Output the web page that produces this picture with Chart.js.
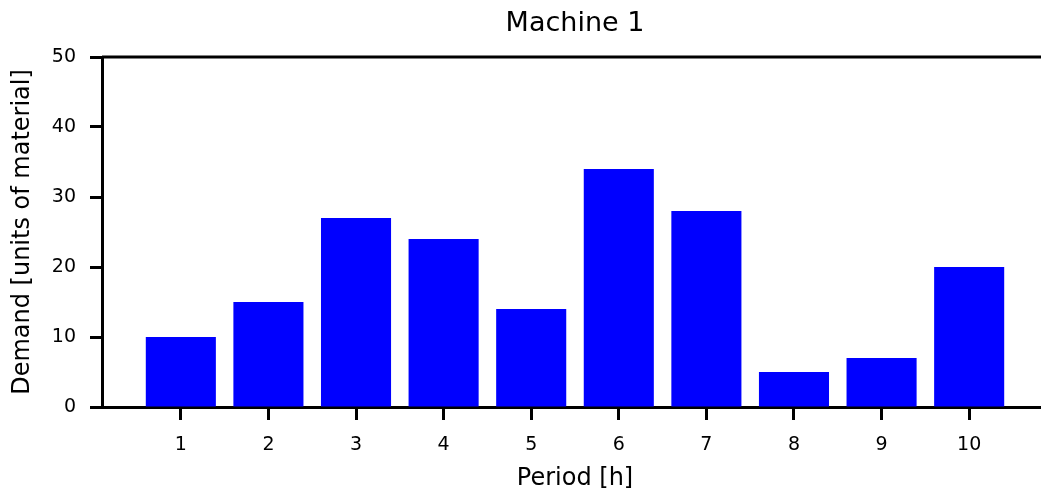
<!DOCTYPE html>
<html>
<head>
<meta charset="utf-8">
<script src="https://cdn.jsdelivr.net/npm/chart.js@4"></script>
<style>
  html, body { margin: 0; padding: 0; background: #fff; overflow: hidden; }
</style>
</head>
<body>
<!-- the axes run slightly past the right edge of the window, as in the original figure -->
<canvas id="chart" width="1048" height="492"></canvas>
<script>
const periods = [1, 2, 3, 4, 5, 6, 7, 8, 9, 10]
const demand = [10, 15, 27, 24, 14, 34, 28, 5, 7, 20]
const yTicks = [0, 10, 20, 30, 40, 50]

const font = 'DejaVu Sans'

// top spine line, Chart.js only draws the axis border on the bottom
const topSpine = {
  id: 'topSpine',
  afterDraw(chart) {
    const { ctx, chartArea: { left, right, top } } = chart
    ctx.save()
    ctx.strokeStyle = '#000'
    ctx.lineWidth = 3
    ctx.beginPath()
    ctx.moveTo(left, top)
    ctx.lineTo(right, top)
    ctx.stroke()
    ctx.restore()
  }
}

new Chart(document.getElementById('chart'), {
  type: 'bar',
  data: {
    datasets: [{
      data: periods.map((p, i) => ({ x: p, y: demand[i] })),
      backgroundColor: '#0000ff',
      borderWidth: 0,
      categoryPercentage: 0.8,
      barPercentage: 1
    }]
  },
  options: {
    responsive: false,
    animation: false,
    layout: { padding: 0 },
    plugins: {
      legend: { display: false },
      tooltip: { enabled: false },
      title: {
        display: true,
        text: 'Machine 1',
        color: '#000',
        fullSize: false,
        font: { family: font, size: 27, weight: 'normal' },
        padding: { top: 7.6, bottom: 17 }
      }
    },
    scales: {
      x: {
        type: 'linear',
        min: 0.1,
        max: 10.9,
        offset: false,
        afterBuildTicks: s => { s.ticks = periods.map(v => ({ value: v })) },
        afterFit: s => { s.height = 85 },
        grid: { offset: false, drawOnChartArea: false, tickLength: 13, tickWidth: 3, tickColor: '#000' },
        border: { display: true, color: '#000', width: 3 },
        ticks: { color: '#000', font: { family: font, size: 19 }, padding: 14 },
        title: {
          display: true,
          text: 'Period [h]',
          color: '#000',
          font: { family: font, size: 24 },
          padding: { top: 0, bottom: -1 }
        }
      },
      y: {
        min: 0,
        max: 50,
        afterBuildTicks: s => { s.ticks = yTicks.map(v => ({ value: v })) },
        afterFit: s => { s.width = 102 },
        grid: { drawOnChartArea: false, tickLength: 12, tickWidth: 3, tickColor: '#000' },
        border: { display: true, color: '#000', width: 3 },
        ticks: { color: '#000', font: { family: font, size: 19 }, padding: 14 },
        title: {
          display: true,
          text: 'Demand [units of material]',
          color: '#000',
          font: { family: font, size: 24 },
          padding: { top: 8, bottom: 0 }
        }
      }
    }
  },
  plugins: [topSpine]
})
</script>
</body>
</html>
